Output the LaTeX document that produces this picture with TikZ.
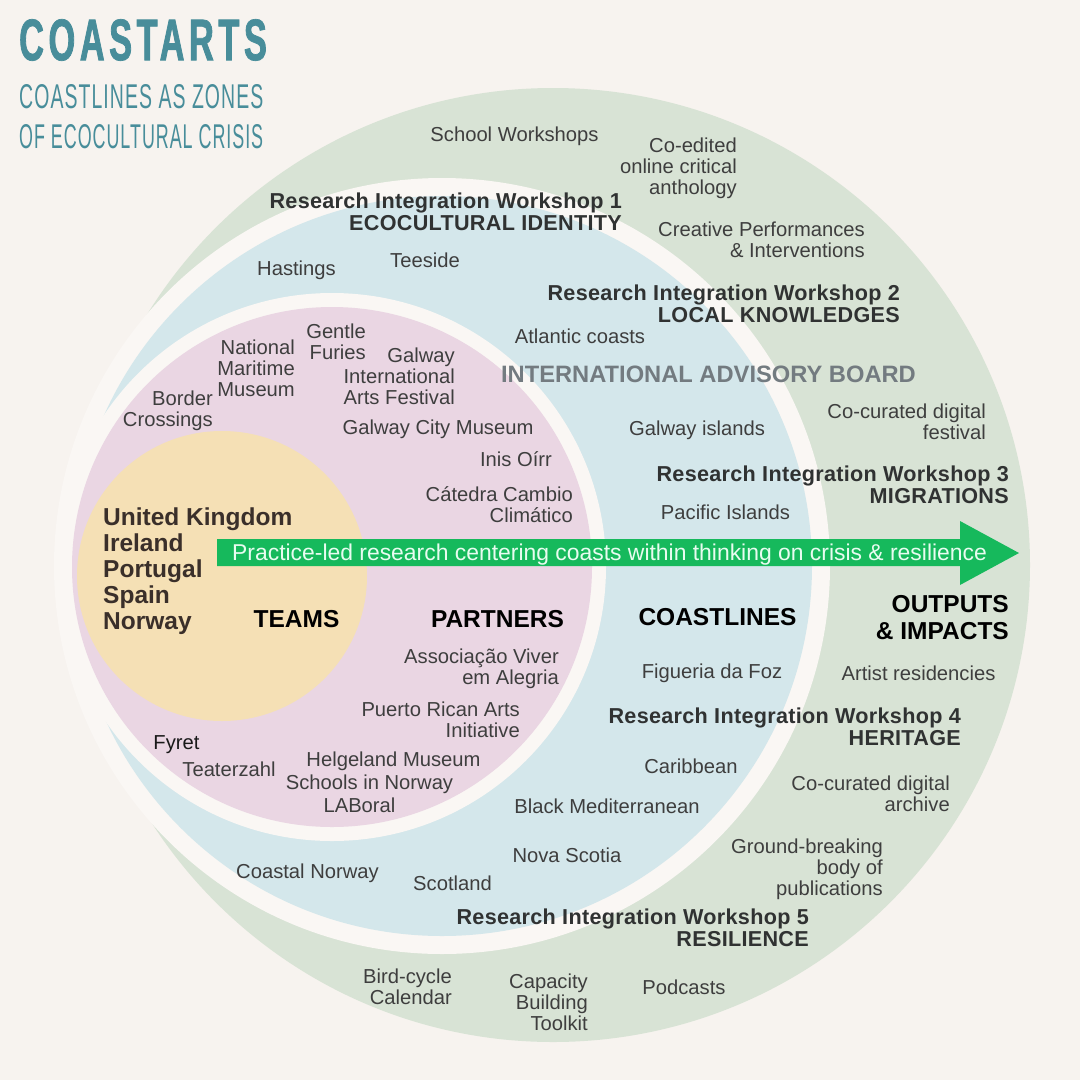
\documentclass[tikz,border=0pt]{standalone}
\usepackage{fontspec}
\usepackage{graphicx}
\setmainfont{Liberation Sans}
\newfontfamily\titlefont[FakeStretch=0.52,LetterSpace=7,FakeBold=1.2]{Liberation Sans}
\newfontfamily\subfont[FakeStretch=0.55,LetterSpace=3]{Liberation Sans}
\newfontfamily\wsfont[LetterSpace=1.4]{Liberation Sans}
\definecolor{bgc}{RGB}{247,243,239}
\definecolor{ringc}{RGB}{250,247,244}
\definecolor{greenc}{RGB}{216,227,213}
\definecolor{bluec}{RGB}{212,231,235}
\definecolor{pinkc}{RGB}{234,214,227}
\definecolor{yellowc}{RGB}{245,224,181}
\definecolor{tealc}{RGB}{72,141,154}
\definecolor{txt}{RGB}{62,62,62}
\definecolor{wstxt}{RGB}{48,50,50}
\definecolor{iabc}{RGB}{115,123,128}
\definecolor{ctry}{RGB}{58,47,42}
\definecolor{arrowc}{RGB}{22,185,92}
\definecolor{arrowtxt}{RGB}{232,252,240}
\tikzset{
  lab/.style={inner sep=0pt, text=txt, font=\fontsize{20.2}{21}\selectfont, align=right, anchor=north east},
  labc/.style={inner sep=0pt, text=txt, font=\fontsize{20.2}{21}\selectfont, anchor=base},
  ws/.style={inner sep=0pt, text=wstxt, font=\wsfont\bfseries\fontsize{21.6}{22.5}\selectfont, align=right, anchor=north east},
  big/.style={inner sep=0pt, text=black, font=\bfseries\fontsize{24.5}{27}\selectfont},
  ttl/.style={inner sep=0pt, text=tealc, anchor=north west}
}
\begin{document}
\begin{tikzpicture}[x=1pt,y=-1pt]
\useasboundingbox (0,0) rectangle (1080,1080);
\fill[bgc] (0,0) rectangle (1080,1080);
% circles
\fill[greenc] (553,565) circle[radius=477pt];
\fill[ringc] (442,566) circle[radius=388pt];
\fill[bluec] (442,566) circle[radius=370pt];
\fill[ringc] (332,567) circle[radius=274pt];
\fill[pinkc] (332,567) circle[radius=260pt];
\fill[yellowc] (222,576) circle[radius=145pt];
% title
\node[ttl] (title) at (19,19) {\resizebox{243pt}{41pt}{\titlefont\bfseries COASTARTS\kern-0.07em}};
\node[ttl] (sub1) at (19,84) {\resizebox{243pt}{24pt}{\subfont COASTLINES AS ZONES\kern-0.03em}};
\node[ttl] (sub2) at (19,124) {\resizebox{243pt}{24pt}{\subfont OF ECOCULTURAL CRISIS\kern-0.03em}};
% arrow
\fill[arrowc] (217,539) -- (960,539) -- (960,521) -- (1019,553) -- (960,585) -- (960,566) -- (217,566) -- cycle;
\node[anchor=base west, inner sep=0pt, text=arrowtxt, font=\fontsize{22.9}{24}\selectfont] (arrowtext) at (232,560.5) {Practice-led research centering coasts within thinking on crisis \& resilience};
% outputs ring
\node[labc] (school) at (514.5,141.2) {School Workshops};
\node[lab] (coedited) at (737,137.7) {Co-edited\\online critical\\anthology};
\node[lab] (creative) at (865,221.7) {Creative Performances\\\& Interventions};
\node[lab] (festival) at (986,403.7) {Co-curated digital\\festival};
\node[big, align=right, anchor=north east] (outputs) at (1009,595.2) {OUTPUTS\\\& IMPACTS};
\node[labc] (artist) at (918.5,680.2) {Artist residencies};
\node[lab] (archive) at (950,775.7) {Co-curated digital\\archive};
\node[lab] (publications) at (883,838.7) {Ground-breaking\\body of\\publications};
\node[lab] (birdcycle) at (452,968.7) {Bird-cycle\\Calendar};
\node[lab] (toolkit) at (588,973.7) {Capacity\\Building\\Toolkit};
\node[labc] (podcasts) at (684,994.2) {Podcasts};
% workshops
\node[ws] (ws1) at (622,192.3) {Research Integration Workshop 1\\ECOCULTURAL IDENTITY};
\node[ws] (ws2) at (900,284.3) {Research Integration Workshop 2\\LOCAL KNOWLEDGES};
\node[ws] (ws3) at (1009,465.3) {Research Integration Workshop 3\\MIGRATIONS};
\node[ws] (ws4) at (961,707.3) {Research Integration Workshop 4\\HERITAGE};
\node[ws] (ws5) at (809,908.3) {Research Integration Workshop 5\\RESILIENCE};
% coastlines ring
\node[labc] (hastings) at (296.5,275) {Hastings};
\node[labc] (teeside) at (425,267.2) {Teeside};
\node[labc] (atlantic) at (580,343) {Atlantic coasts};
\node[inner sep=0pt, anchor=base, text=iabc, font=\bfseries\fontsize{23.7}{25}\selectfont] (iab) at (708.5,382.5) {INTERNATIONAL ADVISORY BOARD};
\node[labc] (galwayisl) at (697,435.5) {Galway islands};
\node[labc] (pacific) at (725.5,519) {Pacific Islands};
\node[big, anchor=base] (coastlines) at (717.5,625.8) {COASTLINES};
\node[labc] (figueira) at (712,678) {Figueria da Foz};
\node[labc] (caribbean) at (691,773) {Caribbean};
\node[labc] (blackmed) at (607,813) {Black Mediterranean};
\node[labc] (nova) at (567,862) {Nova Scotia};
\node[labc] (coastalnorway) at (307.5,878) {Coastal Norway};
\node[labc] (scotland) at (452.5,890) {Scotland};
% partners
\node[lab] (national) at (295,339.7) {National\\Maritime\\Museum};
\node[lab] (gentle) at (366,323.7) {Gentle\\Furies};
\node[lab] (giaf) at (455,347.7) {Galway\\International\\Arts Festival};
\node[lab] (border) at (213,390.7) {Border\\Crossings};
\node[labc] (gcm) at (438,434.5) {Galway City Museum};
\node[labc] (inis) at (516,466.5) {Inis Oírr};
\node[lab] (catedra) at (573,486.7) {Cátedra Cambio\\Climático};
\node[big, anchor=base] (partners) at (497.5,627.8) {PARTNERS};
\node[lab] (assoc) at (559,648.7) {Associação Viver\\em Alegria};
\node[lab] (puerto) at (520,701.7) {Puerto Rican Arts\\Initiative};
\node[labc, text=black!90] (fyret) at (176.5,749.2) {Fyret};
\node[labc] (teaterzahl) at (229,776.2) {Teaterzahl};
\node[labc] (helgeland) at (393.5,766.2) {Helgeland Museum};
\node[labc] (schools) at (369.5,789.2) {Schools in Norway};
\node[labc] (laboral) at (359.5,812.2) {LABoral};
% teams
\node[inner sep=0pt, anchor=north west, align=left, text=ctry, font=\bfseries\fontsize{24.5}{26}\selectfont] (countries) at (103,507.2) {United Kingdom\\Ireland\\Portugal\\Spain\\Norway};
\node[big, anchor=base] (teams) at (296.5,627.8) {TEAMS};
\end{tikzpicture}
\end{document}
